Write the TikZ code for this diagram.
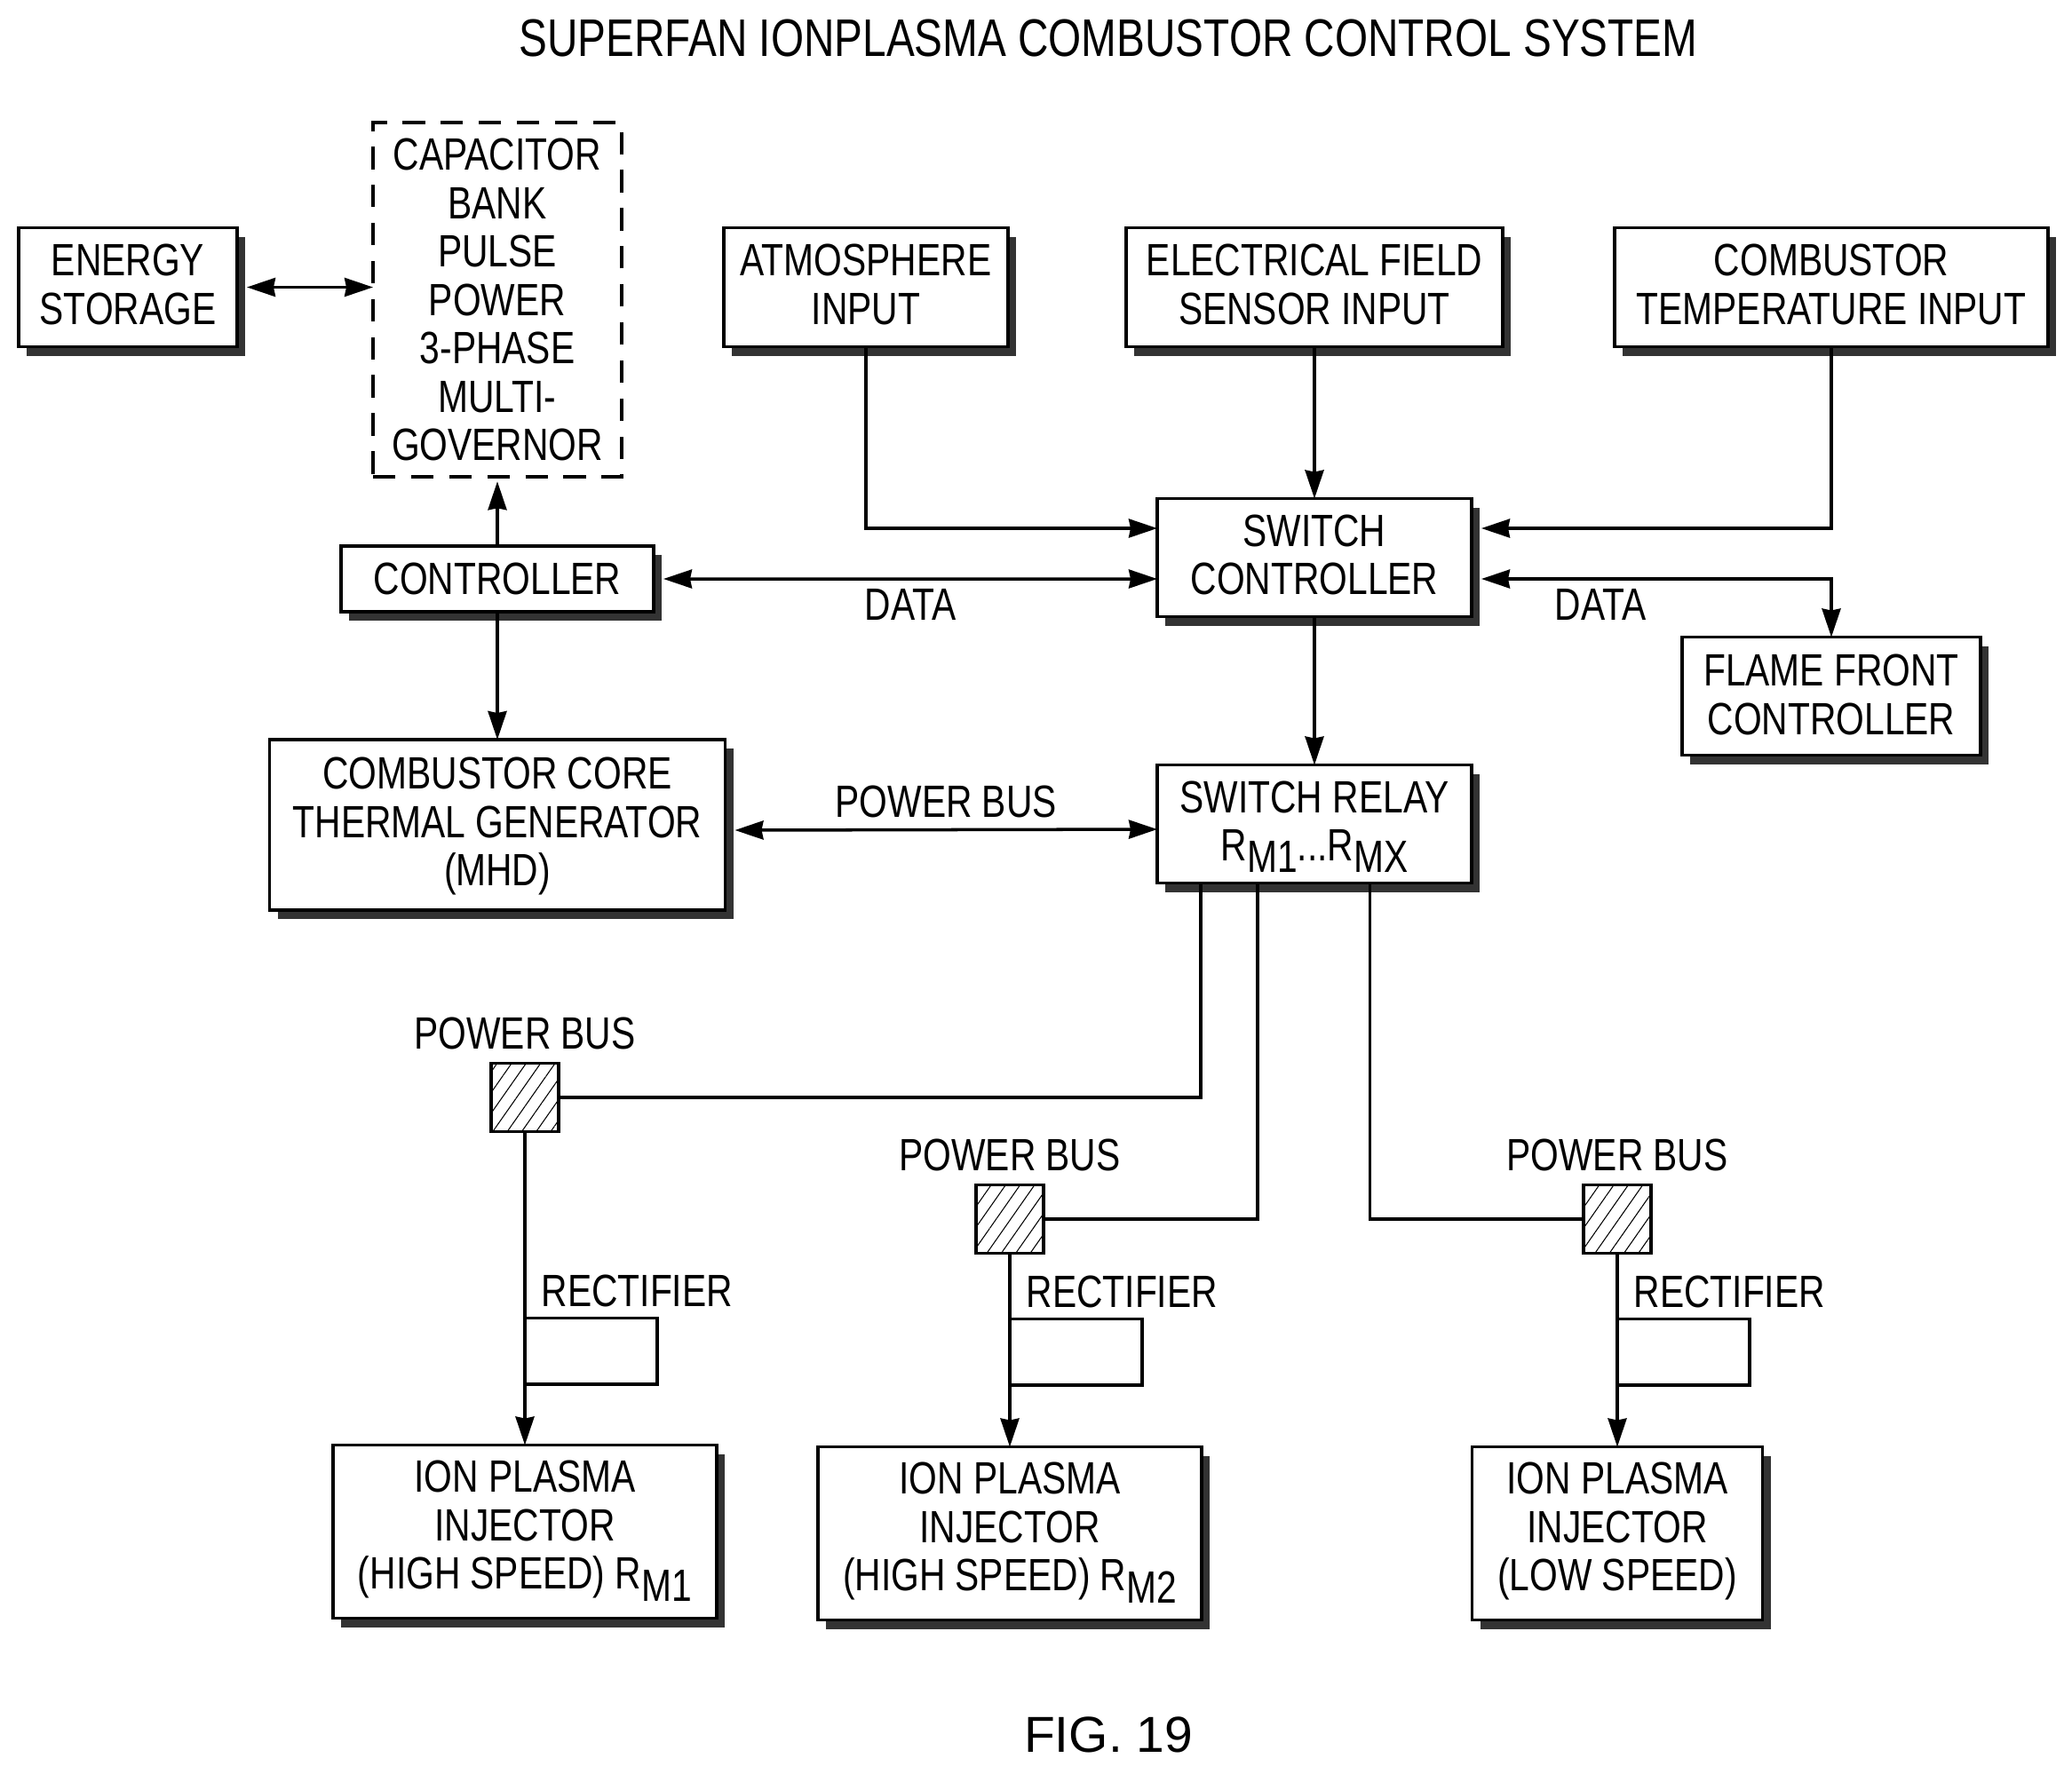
\documentclass[tikz,border=0pt]{standalone}
\usepackage{fontspec}
\setmainfont[FakeStretch=0.8]{Liberation Sans}
\newfontfamily\figfont{Liberation Sans}
\usepackage{tikz}
\usetikzlibrary{arrows.meta,%
                positioning,shadows,patterns.meta}
\newcommand{\RSub}[1]{R\raisebox{-3.8pt}[0pt][0pt]{#1}}

\begin{document}
\begin{tikzpicture}
  \tikzset{BlockStyle/.style = {shape          = rectangle,
                                 draw, fill     = white,
                                 line width     = 1.1pt,
                                 align          = center,
                                 inner sep      = 0pt,
                                 outer sep      = 0pt,
                                 text depth     = 2pt,
                                 font           = \fontsize{14.5}{15.5}\selectfont,
                                 general shadow = {shadow xshift=0.09cm, shadow yshift=-0.1cm, fill=black!80}}}
  \tikzset{DashStyle/.style = {shape          = rectangle,
                                 draw, align    = center,
                                 line width     = 1.1pt,
                                 outer sep      = 0pt,
                                 dash pattern   = on 7.2pt off 5pt,
                                 font           = \fontsize{14.5}{15.5}\selectfont}}
  \tikzset{LabelStyle/.style = {inner sep=0pt, font=\fontsize{14.5}{15.5}\selectfont}}
  \tikzset{BusStyle/.style = {shape          = rectangle,
                                 draw, line width=1.1pt,
                                 outer sep      = 0pt,
                                 minimum width  = 0.76cm,
                                 minimum height = 0.77cm,
                                 pattern        = {Lines[angle=55,distance=3.8pt,line width=0.3pt]}}}
  \tikzset{RectifierStyle/.style = {shape          = rectangle,
                                 draw, line width=1pt,
                                 outer sep      = 0pt,
                                 minimum width  = 1.49cm,
                                 minimum height = 0.745cm}}
  \tikzset{WireStyle/.style = {line width=1pt},
           ArrowStyle/.style = {line width=1pt, -{Stealth[length=3.2mm,width=2.1mm,inset=0.2mm]}},
           BothStyle/.style = {line width=1pt, {Stealth[length=3.2mm,width=2.1mm,inset=0.2mm]}-{Stealth[length=3.2mm,width=2.1mm,inset=0.2mm]}}}

  \useasboundingbox (0,0) rectangle (23.33,-19.97);

  \node[font=\fontsize{16.96}{18}\selectfont](title) at (12.48,-0.43){SUPERFAN IONPLASMA COMBUSTOR CONTROL SYSTEM};

  %%% CENTRE COLUMN %%%
  \node[BlockStyle, minimum width=3.54cm, minimum height=1.33cm](switchctl) at (14.8,-6.28){SWITCH\\CONTROLLER};
  \node[BlockStyle, above=1.71cm of switchctl, minimum width=4.24cm, minimum height=1.34cm](field){ELECTRICAL FIELD\\SENSOR INPUT};
  \node[BlockStyle, below=1.67cm of switchctl, minimum width=3.54cm, minimum height=1.33cm](relay){SWITCH RELAY\\\RSub{M1}...\RSub{MX}};
  \node[BlockStyle, left=1.33cm of field, minimum width=3.2cm, minimum height=1.34cm](atmos){ATMOSPHERE\\INPUT};
  \node[BlockStyle, right=1.26cm of field, minimum width=4.88cm, minimum height=1.34cm](temp){COMBUSTOR\\TEMPERATURE INPUT};
  \node[BlockStyle, below=3.27cm of temp, minimum width=3.36cm, minimum height=1.33cm, text depth=1pt](flame){FLAME FRONT\\CONTROLLER};

  %%% LEFT COLUMN %%%
  \node[BlockStyle, minimum width=3.52cm, minimum height=0.74cm, text depth=0pt](controller) at (5.6,-6.52){CONTROLLER};
  \node[DashStyle, above=0.78cm of controller, minimum width=2.8cm, minimum height=3.99cm](capacitor){CAPACITOR\\BANK\\PULSE\\POWER\\3-PHASE\\MULTI-\\GOVERNOR};
  \node[BlockStyle, below=1.44cm of controller, minimum width=5.13cm, minimum height=1.92cm](core){COMBUSTOR CORE\\THERMAL GENERATOR\\(MHD)};
  \node[BlockStyle, left=1.53cm of capacitor, yshift=1.4mm, minimum width=2.46cm, minimum height=1.34cm](energy){ENERGY\\STORAGE};

  %%% BUSES %%%
  \node[BusStyle](bus1) at (5.91,-12.36){};
  \node[BusStyle](bus2) at (11.37,-13.73){};
  \node[BusStyle](bus3) at (18.21,-13.73){};
  \node[LabelStyle, above=0.15cm of bus1](buslabel1){POWER BUS};
  \node[LabelStyle, above=0.15cm of bus2](buslabel2){POWER BUS};
  \node[LabelStyle, above=0.15cm of bus3](buslabel3){POWER BUS};

  %%% INJECTORS %%%
  \node[BlockStyle, below=3.53cm of bus1, minimum width=4.32cm, minimum height=1.95cm, text depth=4.3pt](inj1){ION PLASMA\\INJECTOR\\(HIGH SPEED) \RSub{M1}};
  \node[BlockStyle, below=2.18cm of bus2, minimum width=4.32cm, minimum height=1.95cm, text depth=4.3pt](inj2){ION PLASMA\\INJECTOR\\(HIGH SPEED) \RSub{M2}};
  \node[BlockStyle, below=2.18cm of bus3, minimum width=3.27cm, minimum height=1.95cm, text depth=4.3pt](inj3){ION PLASMA\\INJECTOR\\(LOW SPEED)};

  %%% RECTIFIERS %%%
  \node[RectifierStyle, below right=2.1cm and 0cm of bus1.south](rect1){};
  \node[RectifierStyle, below right=0.74cm and 0cm of bus2.south](rect2){};
  \node[RectifierStyle, below right=0.74cm and 0cm of bus3.south](rect3){};
  \node[LabelStyle, above right=0.12cm and 0.18cm of rect1.north west](rectlabel1){RECTIFIER};
  \node[LabelStyle, above right=0.12cm and 0.18cm of rect2.north west](rectlabel2){RECTIFIER};
  \node[LabelStyle, above right=0.12cm and 0.18cm of rect3.north west](rectlabel3){RECTIFIER};

  %%% FREE ENDS %%%
  \coordinate (swl1) at ([yshift=3.3mm]switchctl.west);
  \coordinate (swl2) at ([yshift=-2.4mm]switchctl.west);
  \coordinate (swr1) at ([xshift=1.1mm,yshift=3.3mm]switchctl.east);
  \coordinate (swr2) at ([xshift=1.1mm,yshift=-2.4mm]switchctl.east);
  \coordinate (ctlout) at ([xshift=1.1mm]controller.east);
  \coordinate (energyout) at ([xshift=1.1mm]energy.east);
  \coordinate (coreout) at ([xshift=1.1mm,yshift=-0.6mm]core.east);
  \coordinate (relayin) at ([yshift=-0.6mm]relay.west);
  \coordinate (relout1) at ([xshift=-12.8mm]relay.south);
  \coordinate (relout2) at ([xshift=-6.4mm]relay.south);
  \coordinate (relout3) at ([xshift=6.25mm]relay.south);

  %%% CONNECTORS %%%
  \draw[BothStyle](energyout) to (capacitor.west |- energyout);
  \draw[ArrowStyle, shorten >=1.5pt](controller.north) to (capacitor.south);
  \draw[ArrowStyle](controller.south) to (core.north);
  \draw[ArrowStyle](field.south) to (switchctl.north);
  \draw[ArrowStyle](atmos.south) |- (swl1);
  \draw[ArrowStyle](temp.south) |- (swr1);
  \draw[BothStyle](ctlout) to node[LabelStyle, below=0.1cm](datalabel1){DATA} (swl2);
  \draw[BothStyle](swr2) -| node[LabelStyle, pos=0.17, below=0.1cm](datalabel2){DATA} (flame.north);
  \draw[BothStyle](coreout) to node[LabelStyle, above=0.12cm](powerlabel){POWER BUS} (relayin);
  \draw[ArrowStyle](switchctl.south) to (relay.north);
  \draw[WireStyle](relout1) |- (bus1.east);
  \draw[WireStyle](relout2) |- (bus2.east);
  \draw[WireStyle](relout3) |- (bus3.west);
  \draw[ArrowStyle](bus1.south) to (inj1.north);
  \draw[ArrowStyle](bus2.south) to (inj2.north);
  \draw[ArrowStyle](bus3.south) to (inj3.north);

  \node[font=\figfont\fontsize{16.2}{18}\selectfont](figlabel) at (12.48,-19.54){FIG. 19};
\end{tikzpicture}
\end{document}
